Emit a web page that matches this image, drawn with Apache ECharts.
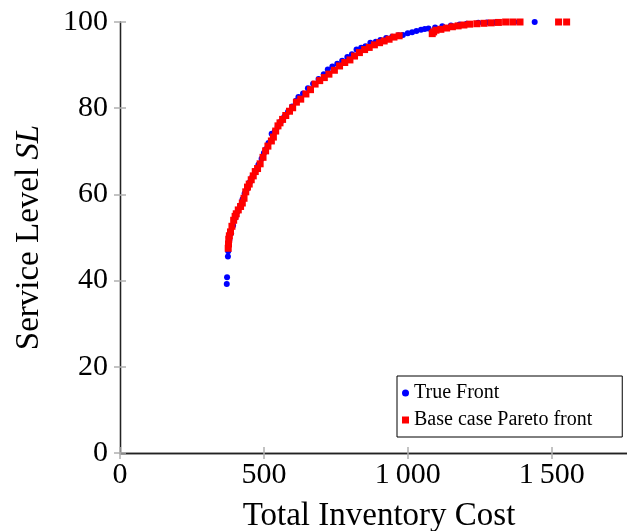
<!DOCTYPE html>
<html>
<head>
<meta charset="utf-8">
<script src="https://cdn.jsdelivr.net/npm/echarts@6/dist/echarts.min.js"></script>
<style>
  html, body { margin: 0; padding: 0; background: #fff; }
  #chart { width: 627px; height: 531px; }
</style>
</head>
<body>
<div id="chart"></div>
<script>
// Series names
const seriesNames = ['True Front', 'Base case Pareto front'];

// True front: [total inventory cost, service level]
const trueFront = [
  [371, 39.2], [372, 40.8], [375, 45.6], [376, 46.8], [377, 48.2], [380, 49.5],
  [386, 51.0], [393, 52.8], [401, 54.6], [409, 56.1], [418, 57.4], [426, 58.9],
  [433, 60.2], [442, 61.3], [451, 62.8], [460, 64.1], [470, 65.4], [481, 66.9],
  [492, 68.3], [500, 69.6], [507, 70.5], [516, 71.9], [527, 74.1], [538, 74.6],
  [548, 75.7], [559, 76.9], [571, 78.0], [584, 79.2], [598, 80.4], [612, 81.7],
  [620, 82.6], [636, 83.4], [653, 84.6], [671, 85.7], [690, 86.8], [708, 87.9],
  [722, 89.0], [738, 89.7], [755, 90.3], [772, 91.0], [790, 91.9], [806, 92.5],
  [822, 93.6], [838, 94.0], [853, 94.4], [870, 95.2], [889, 95.4], [905, 95.8],
  [925, 96.3], [946, 96.6], [968, 96.9], [983, 97.0], [1000, 97.4], [1015, 97.6],
  [1030, 97.9], [1046, 98.2], [1059, 98.4], [1072, 98.5], [1095, 98.7], [1120, 99.0],
  [1150, 99.2], [1180, 99.4], [1205, 99.6], [1245, 99.8], [1275, 99.9], [1302, 99.9],
  [1385, 100], [1441, 100]
];

// Base case Pareto front: [total inventory cost, service level]
const baseCase = [
  [376, 47.5], [377, 48.5], [378, 49.6], [380, 50.4], [384, 51.3], [389, 52.6],
  [395, 54.0], [400, 54.9], [404, 55.5], [411, 56.4], [419, 57.2], [425, 58.0],
  [431, 59.1], [437, 60.6], [443, 61.7], [449, 62.4], [456, 63.4], [463, 64.3],
  [470, 65.3], [478, 66.0], [487, 67.1], [497, 68.6], [506, 70.1], [514, 71.2],
  [526, 72.4], [533, 73.3], [541, 74.7], [549, 75.9], [556, 76.6], [565, 77.4],
  [576, 78.3], [589, 79.3], [600, 80.1], [613, 81.4], [628, 82.1], [646, 83.3],
  [662, 84.3], [678, 85.6], [694, 86.4], [710, 87.1], [726, 87.9], [745, 88.8],
  [763, 89.8], [781, 90.6], [799, 91.2], [815, 92.1], [832, 92.9], [850, 93.6],
  [866, 94.1], [884, 94.7], [902, 95.2], [918, 95.6], [935, 96.0], [952, 96.5],
  [970, 96.8], [1085, 97.3], [1090, 97.7], [1098, 98.1], [1115, 98.3], [1135, 98.6],
  [1155, 98.9], [1175, 99.1], [1195, 99.3], [1215, 99.5], [1240, 99.6], [1265, 99.7],
  [1290, 99.8], [1315, 99.9], [1340, 100], [1365, 100], [1390, 100], [1524, 100],
  [1552, 100]
];

// Axis ranges and ticks
const xTicks = [0, 500, 1000, 1500];
const yTicks = [0, 20, 40, 60, 80, 100];
const xRange = [0, 1800];
const yRange = [0, 100];

const serif = '"Liberation Serif", "DejaVu Serif", serif';
const tickStyle = { show: true, inside: true, length: 6, lineStyle: { color: '#b0b0b0', width: 1.5 } };
const lineStyle = { show: true, lineStyle: { color: '#222', width: 1.3 } };

function fmtThousands(v) {
  const s = String(v);
  return s.length > 3 ? s.slice(0, s.length - 3) + '\u2009' + s.slice(-3) : s;
}

const chart = echarts.init(document.getElementById('chart'), null, { renderer: 'canvas' });
chart.setOption({
  animation: false,
  backgroundColor: '#fff',
  grid: { left: 120, top: 22, width: 518, height: 431, containLabel: false, outerBoundsMode: 'none' },
  legend: {
    orient: 'vertical',
    left: 397, top: 376,
    padding: [7, 30, 7, 5],
    itemGap: 7,
    itemWidth: 7, itemHeight: 7,
    borderColor: '#000', borderWidth: 1, borderRadius: 0,
    backgroundColor: '#fff',
    textStyle: { fontFamily: serif, fontSize: 20, color: '#000', padding: [0, 0, 0, 0] },
    data: [
      { name: seriesNames[0], icon: 'circle' },
      { name: seriesNames[1], icon: 'rect' }
    ]
  },
  xAxis: [
    {
      type: 'value', min: xRange[0], max: xRange[1], interval: 500,
      name: 'Total Inventory Cost', nameLocation: 'middle', nameGap: 47,
      nameTextStyle: { fontFamily: serif, fontSize: 33, color: '#000' },
      axisLine: lineStyle, axisTick: tickStyle, splitLine: { show: false },
      axisLabel: {
        fontFamily: serif, fontSize: 30, color: '#000', margin: 7,
        showMaxLabel: false,
        formatter: v => xTicks.includes(v) ? fmtThousands(v) : ''
      }
    },
    {
      type: 'value', position: 'top', min: xRange[0], max: xRange[1], interval: 500,
      axisLine: lineStyle, axisTick: tickStyle, axisLabel: { show: false }, splitLine: { show: false }
    }
  ],
  yAxis: [
    {
      type: 'value', min: yRange[0], max: yRange[1], interval: 20,
      name: '{n|Service Level }{i|SL}', nameLocation: 'middle', nameGap: 74,
      nameTextStyle: {
        rich: {
          n: { fontFamily: serif, fontSize: 33, color: '#000' },
          i: { fontFamily: serif, fontSize: 33, fontStyle: 'italic', color: '#000' }
        }
      },
      axisLine: lineStyle, axisTick: tickStyle, splitLine: { show: false },
      axisLabel: {
        fontFamily: serif, fontSize: 30, color: '#000', margin: 12,
        formatter: v => yTicks.includes(v) ? String(v) : ''
      }
    },
    {
      type: 'value', position: 'right', min: yRange[0], max: yRange[1], interval: 20,
      axisLine: lineStyle, axisTick: tickStyle, axisLabel: { show: false }, splitLine: { show: false }
    }
  ],
  series: [
    {
      name: seriesNames[0], type: 'scatter', data: trueFront,
      symbol: 'circle', symbolSize: 6,
      itemStyle: { color: '#0000ff', opacity: 1 }
    },
    {
      name: seriesNames[1], type: 'scatter', data: baseCase,
      symbol: 'rect', symbolSize: 7,
      itemStyle: { color: '#ff0000', opacity: 1 }
    }
  ]
});
</script>
</body>
</html>
